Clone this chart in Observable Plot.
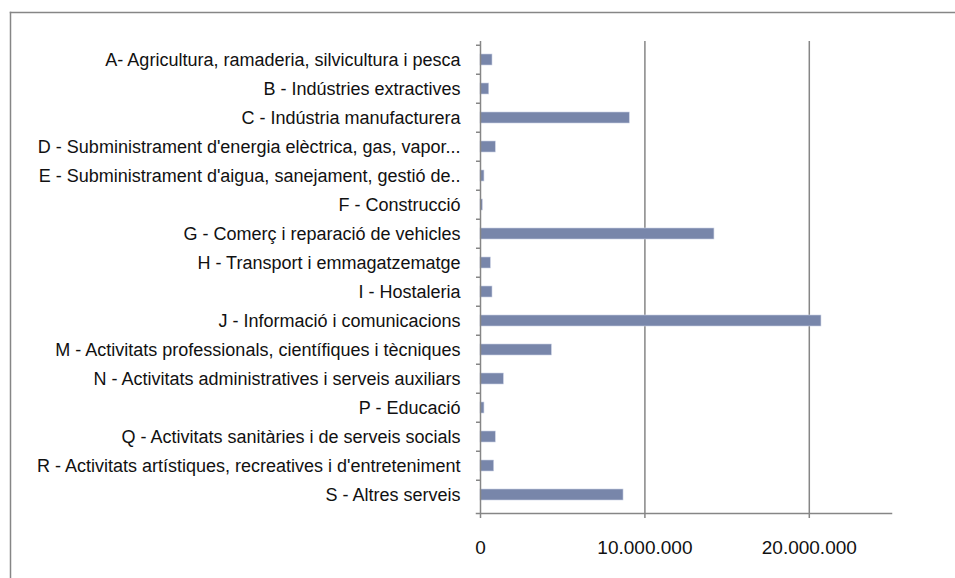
<!DOCTYPE html>
<html>
<head>
<meta charset="utf-8">
<script src="https://cdn.jsdelivr.net/npm/d3@7"></script>
<script src="https://cdn.jsdelivr.net/npm/@observablehq/plot@0.6"></script>
<style>
  html, body { margin: 0; padding: 0; background: #fff; }
  #chart { width: 955px; height: 578px; overflow: hidden; }
</style>
</head>
<body>
<div id="chart"></div>
<script>
const categories = [
  "A- Agricultura, ramaderia, silvicultura i pesca",
  "B - Indústries extractives",
  "C - Indústria manufacturera",
  "D - Subministrament d'energia elèctrica, gas, vapor...",
  "E - Subministrament d'aigua, sanejament, gestió de..",
  "F - Construcció",
  "G - Comerç i reparació de vehicles",
  "H - Transport i emmagatzematge",
  "I - Hostaleria",
  "J - Informació i comunicacions",
  "M - Activitats professionals, científiques i tècniques",
  "N - Activitats administratives i serveis auxiliars",
  "P - Educació",
  "Q - Activitats sanitàries i de serveis socials",
  "R - Activitats artístiques, recreatives i d'entreteniment",
  "S - Altres serveis"
];
const values = [
  730000, 530000, 9080000, 930000, 240000, 140000, 14230000, 630000,
  730000, 20740000, 4340000, 1420000, 240000, 930000, 830000, 8700000
];
const xTicks = [0, 10000000, 20000000];
const xDomain = [0, 25000000];

const data = categories.map((c, i) => ({category: c, value: values[i]}));
const fmt = d3.formatLocale({decimal: ",", thousands: ".", grouping: [3], currency: ["", "€"]}).format(",d");

const W = 955, H = 578;
const mL = 480, mR = 64, mT = 41, mB = 65;
const step = (H - mT - mB) / categories.length;
const gray = "#868686";

const chart = Plot.plot({
  width: W,
  height: H,
  marginLeft: mL,
  marginRight: mR,
  marginTop: mT,
  marginBottom: mB,
  style: {fontFamily: "'Liberation Sans', Arial, sans-serif", background: "#fff", overflow: "visible"},
  x: {domain: xDomain, axis: null},
  y: {domain: categories, paddingInner: 0.63, paddingOuter: 0.315, axis: null},
  marks: [
    // outer chart border (top and left edges)
    Plot.frame({anchor: "top", stroke: gray, strokeWidth: 1.5, insetLeft: -(mL - 10), insetTop: -(mT - 12), insetRight: -mR - 10}),
    Plot.frame({anchor: "left", stroke: gray, strokeWidth: 1.5, insetLeft: -(mL - 10), insetTop: -(mT - 12), insetBottom: -mB - 10}),
    Plot.gridX(xTicks.slice(1), {stroke: gray, strokeOpacity: 1, strokeWidth: 1.5}),
    Plot.barX(data, {y: "category", x: "value", fill: "#7886aa", stroke: "#c9d0e3", strokeWidth: 0.6}),
    // y axis line
    Plot.ruleX([0], {stroke: gray, strokeWidth: 1.5}),
    // x axis line (extending to include the last category boundary tick)
    Plot.frame({anchor: "bottom", stroke: gray, strokeWidth: 1.5, insetLeft: -4}),
    // category boundary ticks
    Plot.axisY({tickSize: 4, tickFormat: () => "", stroke: gray, strokeWidth: 1.5, dy: -step / 2, label: null}),
    // category labels
    Plot.axisY({tickSize: 0, tickPadding: 20, fontSize: 18, fontFamily: "'Liberation Sans Narrow', 'Arial Narrow', sans-serif", fill: "#111", label: null}),
    Plot.axisX({ticks: xTicks, tickFormat: fmt, tickSize: 5, tickPadding: 22, fontSize: 19, stroke: gray, strokeWidth: 1.5, fill: "#111", label: null})
  ]
});
document.getElementById("chart").appendChild(chart);
</script>
</body>
</html>
